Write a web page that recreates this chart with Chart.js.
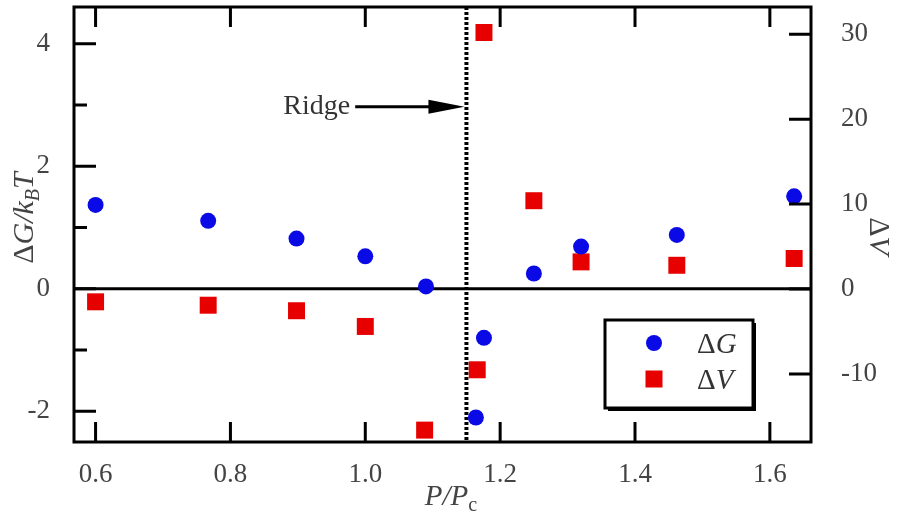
<!DOCTYPE html>
<html>
<head>
<meta charset="utf-8">
<script src="https://cdn.jsdelivr.net/npm/chart.js@4.4.1/dist/chart.umd.min.js"></script>
<style>
  html, body { margin: 0; padding: 0; background: #fff; }
  #wrap { width: 904px; height: 519px; }
</style>
</head>
<body>
<div id="wrap"><canvas id="chart" width="904" height="519"></canvas></div>
<script>
const pressureG = [0.6, 0.767, 0.898, 1.0, 1.09, 1.176, 1.164, 1.25, 1.32, 1.462, 1.636];
const deltaG    = [1.37, 1.11, 0.82, 0.53, 0.04, -0.80, -2.10, 0.25, 0.69, 0.88, 1.51];
const pressureV = [0.6, 0.767, 0.898, 1.0, 1.088, 1.166, 1.176, 1.25, 1.32, 1.462, 1.636];
const deltaV    = [-1.5, -1.9, -2.55, -4.4, -16.6, -9.5, 30.2, 10.4, 3.2, 2.8, 3.6];

const xTicks = [0.6, 0.8, 1.0, 1.2, 1.4, 1.6];
const gTicks = [-2, 0, 2, 4];
const gMinorTicks = [-1, 1, 3];
const vTicks = [-10, 0, 10, 20, 30];

const ridgeAt = 1.15;
const ridgeLabelY = 2.97;
const arrowFromX = 0.985;

const SERIF = "'Liberation Serif', 'Times New Roman', serif";
const BLUE = '#0a0ae6';
const RED = '#e60000';

const toPoints = (xs, ys) => xs.map((x, i) => ({ x: x, y: ys[i] }));

// frame, inward ticks, zero line, ridge marker, titles and legend
const decor = {
  id: 'decor',
  beforeDatasetsDraw(chart) {
    const { ctx, chartArea: a, scales } = chart;
    const yZero = scales.y.getPixelForValue(0);
    const xr = scales.x.getPixelForValue(ridgeAt);
    ctx.save();
    ctx.strokeStyle = '#000';
    ctx.lineWidth = 3;
    ctx.beginPath();
    ctx.moveTo(a.left, yZero);
    ctx.lineTo(a.right, yZero);
    ctx.stroke();

    ctx.lineWidth = 4;
    ctx.setLineDash([3, 2]);
    ctx.beginPath();
    ctx.moveTo(xr, a.top);
    ctx.lineTo(xr, a.bottom);
    ctx.stroke();
    ctx.restore();
  },
  afterDraw(chart) {
    const { ctx, chartArea: a, scales } = chart;
    ctx.save();
    ctx.strokeStyle = '#000';
    ctx.lineWidth = 3;
    ctx.strokeRect(a.left, a.top, a.right - a.left, a.bottom - a.top);

    ctx.beginPath();
    xTicks.forEach(v => {
      const px = scales.x.getPixelForValue(v);
      ctx.moveTo(px, a.bottom); ctx.lineTo(px, a.bottom - 20);
      ctx.moveTo(px, a.top); ctx.lineTo(px, a.top + 20);
    });
    gTicks.forEach(v => {
      const py = scales.y.getPixelForValue(v);
      ctx.moveTo(a.left, py); ctx.lineTo(a.left + 22, py);
    });
    gMinorTicks.forEach(v => {
      const py = scales.y.getPixelForValue(v);
      ctx.moveTo(a.left, py); ctx.lineTo(a.left + 13, py);
    });
    vTicks.forEach(v => {
      const py = scales.y2.getPixelForValue(v);
      ctx.moveTo(a.right, py); ctx.lineTo(a.right - 22, py);
    });
    ctx.stroke();

    // Ridge label + arrow
    const ay = scales.y.getPixelForValue(ridgeLabelY);
    const ax0 = scales.x.getPixelForValue(arrowFromX);
    const ax1 = scales.x.getPixelForValue(ridgeAt) - 2;
    ctx.fillStyle = '#333';
    ctx.font = '28px ' + SERIF;
    ctx.textAlign = 'right';
    ctx.textBaseline = 'middle';
    ctx.fillText('Ridge', ax0 - 5, ay);
    ctx.lineWidth = 3;
    ctx.beginPath();
    ctx.moveTo(ax0, ay); ctx.lineTo(ax1 - 30, ay);
    ctx.stroke();
    ctx.fillStyle = '#000';
    ctx.beginPath();
    ctx.moveTo(ax1, ay);
    ctx.lineTo(ax1 - 36, ay - 7);
    ctx.lineTo(ax1 - 36, ay + 7);
    ctx.closePath();
    ctx.fill();

    // axis titles
    ctx.fillStyle = '#444';
    ctx.textBaseline = 'alphabetic';
    const seq = (parts, x, y) => {
      let cx = x;
      parts.forEach(p => {
        ctx.font = p.font;
        ctx.fillText(p.t, cx, y + (p.dy || 0));
        cx += ctx.measureText(p.t).width;
      });
      return cx - x;
    };
    const measure = parts => parts.reduce((w, p) => { ctx.font = p.font; return w + ctx.measureText(p.t).width; }, 0);
    ctx.textAlign = 'left';

    const it = 'italic 30px ' + SERIF;
    const itSub = 'italic 20px ' + SERIF;
    const gTitle = [
      { t: '\u0394', font: '30px ' + SERIF },
      { t: 'G/k', font: it },
      { t: 'B', font: itSub, dy: 6 },
      { t: 'T', font: it }
    ];
    ctx.save();
    ctx.translate(33, 218);
    ctx.rotate(-Math.PI / 2);
    seq(gTitle, -measure(gTitle) / 2, 0);
    ctx.restore();

    const vTitle = [
      { t: '\u0394', font: '30px ' + SERIF },
      { t: 'V', font: it }
    ];
    ctx.save();
    ctx.translate(870, 236);
    ctx.rotate(Math.PI / 2);
    seq(vTitle, -measure(vTitle) / 2, 0);
    ctx.restore();

    const xTitle = [
      { t: 'P/P', font: 'italic 29px ' + SERIF },
      { t: 'c', font: '20px ' + SERIF, dy: 6 }
    ];
    seq(xTitle, 451 - measure(xTitle) / 2, 505);

    // legend box
    ctx.fillStyle = '#000';
    ctx.fillRect(608, 323, 148, 88);
    ctx.fillStyle = '#fff';
    ctx.fillRect(605, 320, 148, 88);
    ctx.lineWidth = 3;
    ctx.strokeRect(605, 320, 148, 88);
    ctx.fillStyle = BLUE;
    ctx.beginPath();
    ctx.arc(654, 343, 8, 0, Math.PI * 2);
    ctx.fill();
    ctx.fillStyle = RED;
    ctx.fillRect(645.5, 370.5, 17, 17);
    ctx.fillStyle = '#333';
    seq([{ t: '\u0394', font: '29px ' + SERIF }, { t: 'G', font: 'italic 29px ' + SERIF }], 697, 353);
    seq([{ t: '\u0394', font: '29px ' + SERIF }, { t: 'V', font: 'italic 29px ' + SERIF }], 697, 389);
    ctx.restore();
  }
};

const noPad = s => { s.paddingTop = 0; s.paddingBottom = 0; s.paddingLeft = 0; s.paddingRight = 0; };

new Chart(document.getElementById('chart'), {
  type: 'scatter',
  data: {
    datasets: [
      {
        label: '\u0394G',
        data: toPoints(pressureG, deltaG),
        yAxisID: 'y',
        pointStyle: 'circle',
        pointRadius: 8,
        pointBackgroundColor: BLUE,
        pointBorderWidth: 0
      },
      {
        label: '\u0394V',
        data: toPoints(pressureV, deltaV),
        yAxisID: 'y2',
        pointStyle: 'rect',
        pointRadius: 12,
        pointBackgroundColor: RED,
        pointBorderWidth: 0
      }
    ]
  },
  options: {
    responsive: false,
    animation: false,
    layout: { autoPadding: false, padding: { top: 7, left: 0, right: 0, bottom: 0 } },
    plugins: { legend: { display: false }, tooltip: { enabled: false } },
    scales: {
      x: {
        type: 'linear',
        min: 0.568,
        max: 1.661,
        grid: { display: false },
        border: { display: false },
        afterBuildTicks: s => { s.ticks = xTicks.map(v => ({ value: v })); },
        afterFit: s => { s.height = 77; noPad(s); },
        ticks: {
          padding: 9,
          color: '#444',
          font: { family: SERIF, size: 27 },
          callback: v => v.toFixed(1)
        }
      },
      y: {
        position: 'left',
        min: -2.5,
        max: 4.6,
        grid: { display: false },
        border: { display: false },
        afterBuildTicks: s => { s.ticks = gTicks.map(v => ({ value: v })); },
        afterFit: s => { s.width = 74; noPad(s); },
        ticks: {
          padding: 16,
          color: '#444',
          font: { family: SERIF, size: 27 },
          callback: v => String(v)
        }
      },
      y2: {
        position: 'right',
        min: -18,
        max: 33.2,
        grid: { display: false },
        border: { display: false },
        afterBuildTicks: s => { s.ticks = vTicks.map(v => ({ value: v })); },
        afterFit: s => { s.width = 93; noPad(s); },
        ticks: {
          padding: 22,
          color: '#444',
          font: { family: SERIF, size: 27 },
          callback: v => String(v)
        }
      }
    }
  },
  plugins: [decor]
});
</script>
</body>
</html>
